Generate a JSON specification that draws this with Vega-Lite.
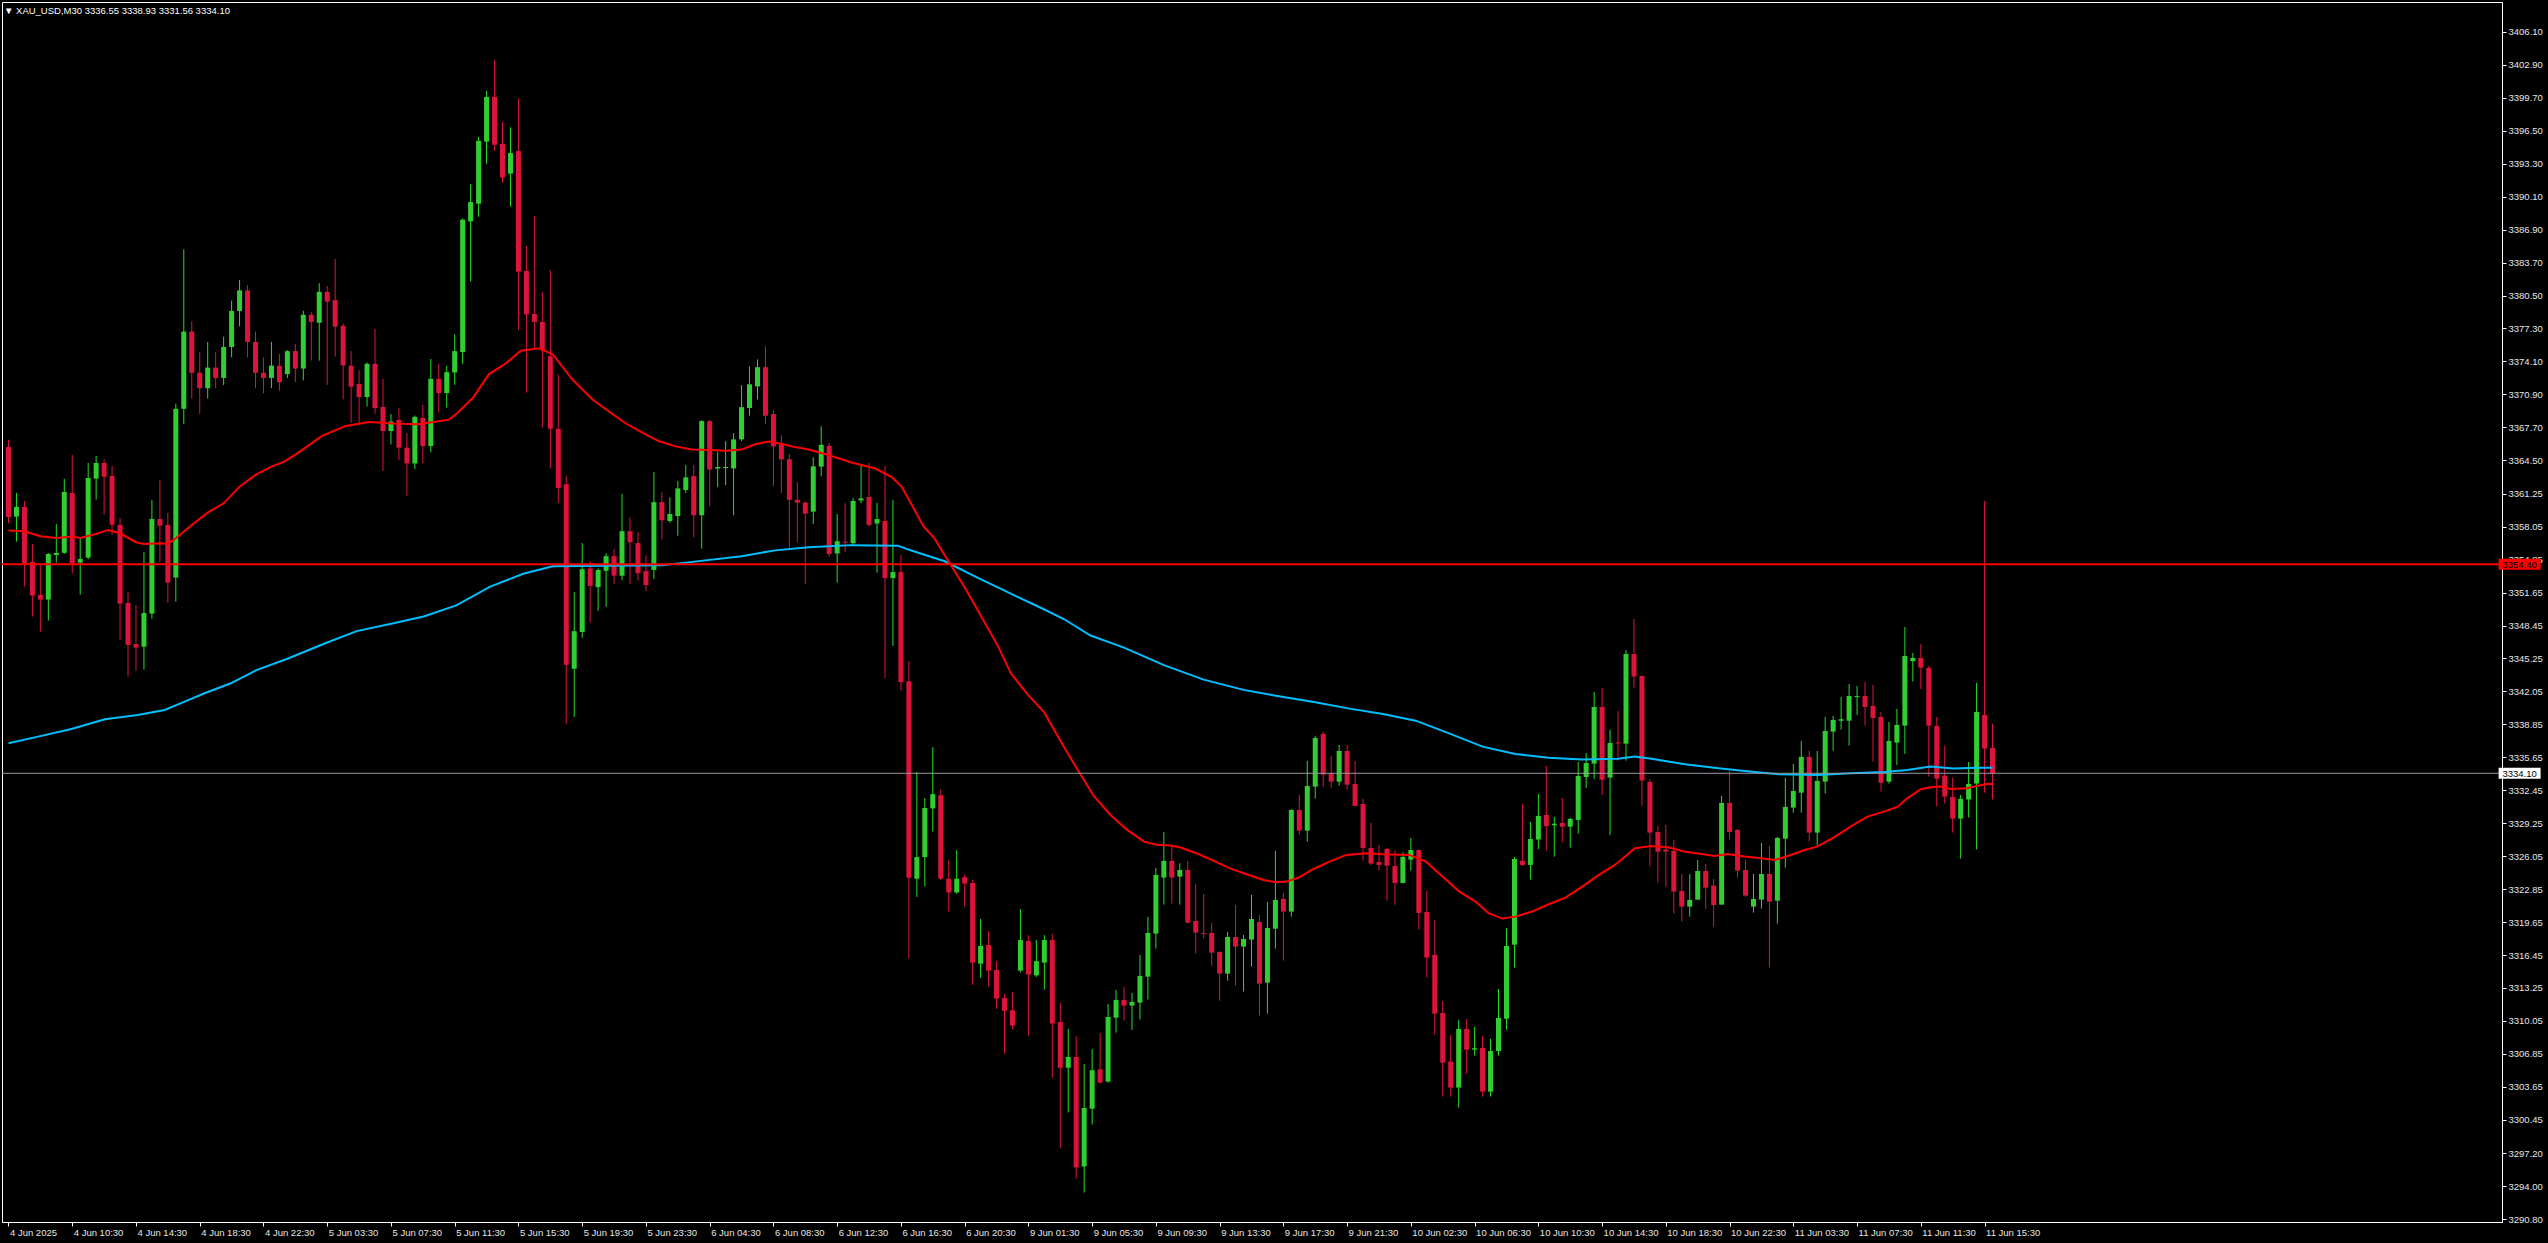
{
"$schema":"https://vega.github.io/schema/vega-lite/v6.json",
"width":2500,"height":1220,
"autosize":{"type":"none"},
"padding":{"left":2,"top":2,"right":46,"bottom":21},
"background":"#000000",
"config":{"view":{"stroke":"#FFFFFF","strokeWidth":1,"fill":"#000000"},"axis":{"labelOverlap":false}},
"title":{"text":"▼ XAU_USD,M30  3336.55 3338.93 3331.56 3334.10","anchor":"start","offset":-13,"dx":3,"color":"#FFFFFF","fontSize":9.5,"font":"Liberation Sans","fontWeight":"normal"},
"datasets":{
"candles":[
{"i":0,"o":3365.8,"h":3366.5,"l":3358.4,"c":3359.0},
{"i":1,"o":3359.03,"h":3361.33,"l":3356.6,"c":3359.97},
{"i":2,"o":3359.97,"h":3360.55,"l":3352.23,"c":3354.5},
{"i":3,"o":3354.63,"h":3356.37,"l":3349.32,"c":3351.36},
{"i":4,"o":3351.42,"h":3354.34,"l":3347.86,"c":3350.97},
{"i":5,"o":3350.97,"h":3355.5,"l":3348.93,"c":3355.4},
{"i":6,"o":3355.3,"h":3358.32,"l":3354.56,"c":3355.5},
{"i":7,"o":3355.53,"h":3362.69,"l":3355.4,"c":3361.42},
{"i":8,"o":3361.33,"h":3365.02,"l":3353.53,"c":3354.5},
{"i":9,"o":3354.56,"h":3356.86,"l":3351.45,"c":3354.92},
{"i":10,"o":3355.05,"h":3364.24,"l":3354.89,"c":3362.78},
{"i":11,"o":3362.72,"h":3364.92,"l":3360.68,"c":3364.24},
{"i":12,"o":3364.24,"h":3364.63,"l":3359.22,"c":3362.91},
{"i":13,"o":3362.98,"h":3363.95,"l":3357.25,"c":3358.25},
{"i":14,"o":3358.22,"h":3358.87,"l":3347.05,"c":3350.58},
{"i":15,"o":3350.64,"h":3351.68,"l":3343.49,"c":3346.57},
{"i":16,"o":3346.66,"h":3350.45,"l":3344.07,"c":3346.31},
{"i":17,"o":3346.4,"h":3355.57,"l":3344.17,"c":3349.67},
{"i":18,"o":3349.61,"h":3360.65,"l":3349.12,"c":3358.8},
{"i":19,"o":3358.8,"h":3362.56,"l":3354.63,"c":3358.15},
{"i":20,"o":3358.22,"h":3359.39,"l":3350.68,"c":3352.62},
{"i":21,"o":3353.11,"h":3370.0,"l":3350.77,"c":3369.5},
{"i":22,"o":3369.5,"h":3385.0,"l":3368.0,"c":3377.0},
{"i":23,"o":3377.0,"h":3378.0,"l":3370.5,"c":3373.0},
{"i":24,"o":3373.0,"h":3375.0,"l":3369.0,"c":3371.5},
{"i":25,"o":3371.5,"h":3376.0,"l":3370.5,"c":3373.5},
{"i":26,"o":3373.5,"h":3375.0,"l":3371.5,"c":3372.5},
{"i":27,"o":3372.5,"h":3376.5,"l":3371.8,"c":3375.5},
{"i":28,"o":3375.5,"h":3380.0,"l":3374.5,"c":3379.0},
{"i":29,"o":3379.0,"h":3382.0,"l":3377.5,"c":3381.0},
{"i":30,"o":3381.0,"h":3381.5,"l":3374.5,"c":3376.0},
{"i":31,"o":3376.0,"h":3377.0,"l":3371.5,"c":3373.0},
{"i":32,"o":3373.0,"h":3374.5,"l":3371.0,"c":3372.5},
{"i":33,"o":3372.5,"h":3376.0,"l":3371.5,"c":3373.7},
{"i":34,"o":3373.68,"h":3374.83,"l":3371.26,"c":3372.07},
{"i":35,"o":3372.87,"h":3375.2,"l":3372.49,"c":3375.1},
{"i":36,"o":3375.1,"h":3375.79,"l":3372.1,"c":3373.41},
{"i":37,"o":3373.41,"h":3379.02,"l":3372.26,"c":3378.63},
{"i":38,"o":3378.63,"h":3378.9,"l":3374.18,"c":3377.94},
{"i":39,"o":3377.86,"h":3381.7,"l":3374.18,"c":3380.86},
{"i":40,"o":3380.86,"h":3381.43,"l":3371.83,"c":3379.9},
{"i":41,"o":3380.05,"h":3384.05,"l":3374.56,"c":3377.48},
{"i":42,"o":3377.56,"h":3377.8,"l":3370.41,"c":3373.72},
{"i":43,"o":3373.68,"h":3375.1,"l":3368.15,"c":3371.64},
{"i":44,"o":3371.91,"h":3373.26,"l":3368.07,"c":3370.64},
{"i":45,"o":3370.64,"h":3374.0,"l":3369.72,"c":3373.87},
{"i":46,"o":3373.87,"h":3377.25,"l":3369.03,"c":3369.57},
{"i":47,"o":3369.68,"h":3372.41,"l":3363.46,"c":3367.34},
{"i":48,"o":3367.34,"h":3368.99,"l":3366.04,"c":3368.26},
{"i":49,"o":3368.42,"h":3369.57,"l":3364.54,"c":3365.73},
{"i":50,"o":3365.73,"h":3367.15,"l":3361.04,"c":3364.19},
{"i":51,"o":3364.19,"h":3368.84,"l":3363.65,"c":3368.72},
{"i":52,"o":3368.61,"h":3369.88,"l":3364.23,"c":3365.88},
{"i":53,"o":3365.88,"h":3374.33,"l":3365.27,"c":3372.41},
{"i":54,"o":3372.41,"h":3373.87,"l":3369.15,"c":3371.03},
{"i":55,"o":3371.03,"h":3373.68,"l":3369.61,"c":3373.06},
{"i":56,"o":3373.03,"h":3376.75,"l":3371.83,"c":3375.1},
{"i":57,"o":3375.02,"h":3388.0,"l":3373.87,"c":3387.85},
{"i":58,"o":3387.7,"h":3391.31,"l":3381.86,"c":3389.58},
{"i":59,"o":3389.42,"h":3395.91,"l":3388.16,"c":3395.53},
{"i":60,"o":3395.45,"h":3400.37,"l":3393.3,"c":3399.79},
{"i":61,"o":3399.79,"h":3403.36,"l":3394.57,"c":3395.14},
{"i":62,"o":3395.22,"h":3397.37,"l":3391.46,"c":3391.96},
{"i":63,"o":3392.34,"h":3396.84,"l":3389.15,"c":3394.34},
{"i":64,"o":3394.53,"h":3399.64,"l":3377.17,"c":3382.82},
{"i":65,"o":3382.89,"h":3385.31,"l":3371.07,"c":3378.67},
{"i":66,"o":3378.71,"h":3388.23,"l":3375.37,"c":3377.94},
{"i":67,"o":3377.94,"h":3380.86,"l":3367.69,"c":3375.18},
{"i":68,"o":3374.6,"h":3382.95,"l":3363.7,"c":3367.57},
{"i":69,"o":3367.56,"h":3372.83,"l":3360.35,"c":3361.81},
{"i":70,"o":3362.17,"h":3363.0,"l":3338.9,"c":3344.65},
{"i":71,"o":3344.25,"h":3351.7,"l":3339.58,"c":3347.9},
{"i":72,"o":3347.82,"h":3356.46,"l":3347.27,"c":3353.92},
{"i":73,"o":3354.0,"h":3354.68,"l":3348.73,"c":3352.3},
{"i":74,"o":3352.18,"h":3354.0,"l":3349.88,"c":3353.85},
{"i":75,"o":3353.77,"h":3355.47,"l":3350.28,"c":3355.19},
{"i":76,"o":3355.19,"h":3355.87,"l":3352.5,"c":3353.29},
{"i":77,"o":3353.29,"h":3361.22,"l":3352.85,"c":3357.61},
{"i":78,"o":3357.61,"h":3358.96,"l":3352.5,"c":3356.54},
{"i":79,"o":3356.46,"h":3357.53,"l":3352.81,"c":3353.53},
{"i":80,"o":3353.73,"h":3355.27,"l":3351.78,"c":3352.38},
{"i":81,"o":3353.85,"h":3363.36,"l":3352.97,"c":3360.43},
{"i":82,"o":3360.43,"h":3361.38,"l":3356.82,"c":3358.68},
{"i":83,"o":3358.6,"h":3360.9,"l":3358.44,"c":3359.28},
{"i":84,"o":3359.08,"h":3362.49,"l":3357.17,"c":3361.77},
{"i":85,"o":3361.61,"h":3364.03,"l":3361.34,"c":3362.84},
{"i":86,"o":3362.96,"h":3364.03,"l":3357.02,"c":3359.16},
{"i":87,"o":3359.16,"h":3368.4,"l":3355.91,"c":3368.31},
{"i":88,"o":3368.31,"h":3368.43,"l":3360.03,"c":3363.6},
{"i":89,"o":3363.7,"h":3365.3,"l":3361.89,"c":3363.85},
{"i":90,"o":3363.75,"h":3366.37,"l":3362.09,"c":3363.85},
{"i":91,"o":3363.71,"h":3367.12,"l":3359.16,"c":3366.53},
{"i":92,"o":3366.53,"h":3371.8,"l":3366.37,"c":3369.66},
{"i":93,"o":3369.58,"h":3373.62,"l":3368.83,"c":3371.88},
{"i":94,"o":3371.68,"h":3374.3,"l":3370.41,"c":3373.54},
{"i":95,"o":3373.54,"h":3375.57,"l":3368.0,"c":3368.83},
{"i":96,"o":3368.99,"h":3369.38,"l":3362.01,"c":3365.85},
{"i":97,"o":3366.05,"h":3366.92,"l":3361.34,"c":3364.59},
{"i":98,"o":3364.59,"h":3365.1,"l":3355.99,"c":3360.66},
{"i":99,"o":3360.66,"h":3362.37,"l":3356.54,"c":3360.39},
{"i":100,"o":3360.39,"h":3360.51,"l":3352.5,"c":3359.32},
{"i":101,"o":3359.51,"h":3364.79,"l":3358.33,"c":3363.91},
{"i":102,"o":3363.89,"h":3367.8,"l":3362.94,"c":3366.0},
{"i":103,"o":3365.9,"h":3366.2,"l":3355.12,"c":3355.4},
{"i":104,"o":3355.45,"h":3359.27,"l":3352.63,"c":3356.64},
{"i":105,"o":3356.6,"h":3360.32,"l":3355.59,"c":3356.5},
{"i":106,"o":3356.45,"h":3360.84,"l":3356.3,"c":3360.55},
{"i":107,"o":3360.6,"h":3363.99,"l":3360.32,"c":3360.8},
{"i":108,"o":3360.94,"h":3364.28,"l":3358.07,"c":3358.22},
{"i":109,"o":3358.36,"h":3360.36,"l":3353.59,"c":3358.79},
{"i":110,"o":3358.6,"h":3363.94,"l":3343.33,"c":3353.06},
{"i":111,"o":3353.06,"h":3360.65,"l":3346.48,"c":3353.64},
{"i":112,"o":3353.64,"h":3355.31,"l":3342.14,"c":3342.95},
{"i":113,"o":3343.04,"h":3345.0,"l":3316.14,"c":3323.96},
{"i":114,"o":3323.86,"h":3334.22,"l":3322.1,"c":3325.96},
{"i":115,"o":3325.96,"h":3331.69,"l":3323.1,"c":3330.73},
{"i":116,"o":3330.69,"h":3336.65,"l":3328.45,"c":3332.07},
{"i":117,"o":3331.98,"h":3332.55,"l":3323.72,"c":3323.86},
{"i":118,"o":3323.86,"h":3325.68,"l":3320.67,"c":3322.53},
{"i":119,"o":3322.53,"h":3326.63,"l":3322.4,"c":3323.86},
{"i":120,"o":3324.01,"h":3324.25,"l":3321.15,"c":3323.39},
{"i":121,"o":3323.44,"h":3323.77,"l":3313.56,"c":3315.71},
{"i":122,"o":3315.61,"h":3319.95,"l":3314.23,"c":3317.33},
{"i":123,"o":3317.42,"h":3318.76,"l":3313.37,"c":3314.94},
{"i":124,"o":3314.99,"h":3315.85,"l":3311.22,"c":3312.22},
{"i":125,"o":3312.27,"h":3312.65,"l":3306.88,"c":3311.03},
{"i":126,"o":3311.08,"h":3312.84,"l":3309.22,"c":3309.6},
{"i":127,"o":3314.94,"h":3320.91,"l":3314.75,"c":3317.9},
{"i":128,"o":3317.81,"h":3318.38,"l":3308.6,"c":3314.56},
{"i":129,"o":3314.47,"h":3317.9,"l":3314.32,"c":3315.85},
{"i":130,"o":3315.71,"h":3318.38,"l":3313.08,"c":3317.9},
{"i":131,"o":3317.9,"h":3318.52,"l":3304.54,"c":3309.79},
{"i":132,"o":3309.93,"h":3311.79,"l":3297.72,"c":3305.5},
{"i":133,"o":3305.5,"h":3309.27,"l":3301.16,"c":3306.55},
{"i":134,"o":3306.55,"h":3308.55,"l":3294.72,"c":3295.82},
{"i":135,"o":3295.91,"h":3305.85,"l":3293.38,"c":3301.59},
{"i":136,"o":3301.53,"h":3307.3,"l":3299.98,"c":3305.26},
{"i":137,"o":3305.35,"h":3308.88,"l":3304.0,"c":3304.06},
{"i":138,"o":3304.16,"h":3311.7,"l":3304.06,"c":3310.43},
{"i":139,"o":3310.37,"h":3313.06,"l":3308.91,"c":3312.09},
{"i":140,"o":3312.09,"h":3313.35,"l":3310.08,"c":3311.54},
{"i":141,"o":3311.54,"h":3312.77,"l":3309.17,"c":3311.89},
{"i":142,"o":3311.83,"h":3316.46,"l":3310.18,"c":3314.42},
{"i":143,"o":3314.35,"h":3320.14,"l":3312.12,"c":3318.59},
{"i":144,"o":3318.53,"h":3324.91,"l":3317.07,"c":3324.23},
{"i":145,"o":3323.97,"h":3328.4,"l":3321.35,"c":3325.59},
{"i":146,"o":3325.59,"h":3327.08,"l":3321.44,"c":3323.97},
{"i":147,"o":3324.07,"h":3325.36,"l":3321.35,"c":3324.71},
{"i":148,"o":3324.71,"h":3325.59,"l":3319.5,"c":3319.6},
{"i":149,"o":3319.76,"h":3323.35,"l":3316.59,"c":3318.63},
{"i":150,"o":3318.6,"h":3322.38,"l":3318.04,"c":3318.5},
{"i":151,"o":3318.59,"h":3319.57,"l":3315.42,"c":3316.68},
{"i":152,"o":3316.75,"h":3316.8,"l":3312.02,"c":3314.64},
{"i":153,"o":3314.64,"h":3318.69,"l":3313.96,"c":3318.2},
{"i":154,"o":3318.2,"h":3321.31,"l":3313.48,"c":3317.27},
{"i":155,"o":3317.27,"h":3318.4,"l":3312.9,"c":3318.01},
{"i":156,"o":3317.95,"h":3322.28,"l":3315.32,"c":3319.95},
{"i":157,"o":3319.66,"h":3320.34,"l":3310.57,"c":3313.67},
{"i":158,"o":3313.77,"h":3321.6,"l":3310.76,"c":3319.08},
{"i":159,"o":3319.01,"h":3326.56,"l":3317.07,"c":3321.8},
{"i":160,"o":3321.9,"h":3322.48,"l":3315.91,"c":3320.67},
{"i":161,"o":3320.67,"h":3330.6,"l":3320.18,"c":3330.54},
{"i":162,"o":3330.54,"h":3331.99,"l":3328.14,"c":3328.53},
{"i":163,"o":3328.53,"h":3335.3,"l":3327.46,"c":3332.87},
{"i":164,"o":3332.81,"h":3337.73,"l":3331.64,"c":3337.53},
{"i":165,"o":3337.92,"h":3338.11,"l":3332.81,"c":3333.97},
{"i":166,"o":3334.07,"h":3335.78,"l":3332.71,"c":3333.29},
{"i":167,"o":3333.29,"h":3336.85,"l":3332.9,"c":3336.27},
{"i":168,"o":3336.27,"h":3336.85,"l":3332.51,"c":3333.0},
{"i":169,"o":3333.06,"h":3335.3,"l":3330.9,"c":3330.93},
{"i":170,"o":3331.12,"h":3331.61,"l":3325.62,"c":3326.85},
{"i":171,"o":3326.85,"h":3329.28,"l":3325.2,"c":3325.33},
{"i":172,"o":3325.49,"h":3327.14,"l":3324.65,"c":3325.2},
{"i":173,"o":3326.75,"h":3326.85,"l":3321.73,"c":3325.13},
{"i":174,"o":3325.1,"h":3326.62,"l":3321.34,"c":3323.45},
{"i":175,"o":3323.45,"h":3326.43,"l":3323.4,"c":3325.97},
{"i":176,"o":3325.71,"h":3327.82,"l":3324.65,"c":3326.65},
{"i":177,"o":3326.65,"h":3326.7,"l":3318.92,"c":3320.54},
{"i":178,"o":3320.63,"h":3322.67,"l":3314.26,"c":3316.2},
{"i":179,"o":3316.46,"h":3319.85,"l":3308.72,"c":3310.76},
{"i":180,"o":3310.82,"h":3311.99,"l":3302.7,"c":3306.0},
{"i":181,"o":3306.1,"h":3308.69,"l":3302.7,"c":3303.57},
{"i":182,"o":3303.57,"h":3310.14,"l":3301.63,"c":3309.27},
{"i":183,"o":3309.27,"h":3310.24,"l":3304.93,"c":3307.26},
{"i":184,"o":3307.26,"h":3309.46,"l":3306.68,"c":3307.4},
{"i":185,"o":3307.42,"h":3308.59,"l":3302.7,"c":3303.18},
{"i":186,"o":3303.18,"h":3308.3,"l":3302.7,"c":3307.13},
{"i":187,"o":3307.13,"h":3313.15,"l":3306.68,"c":3310.34},
{"i":188,"o":3310.27,"h":3319.05,"l":3309.2,"c":3317.33},
{"i":189,"o":3317.46,"h":3325.97,"l":3315.23,"c":3325.78},
{"i":190,"o":3325.59,"h":3331.12,"l":3325.1,"c":3325.2},
{"i":191,"o":3325.2,"h":3329.37,"l":3323.77,"c":3327.72},
{"i":192,"o":3327.66,"h":3332.09,"l":3326.75,"c":3329.96},
{"i":193,"o":3330.05,"h":3334.81,"l":3326.59,"c":3328.98},
{"i":194,"o":3329.05,"h":3329.86,"l":3326.01,"c":3329.2},
{"i":195,"o":3329.28,"h":3331.7,"l":3327.37,"c":3328.92},
{"i":196,"o":3328.92,"h":3329.76,"l":3326.88,"c":3329.67},
{"i":197,"o":3329.57,"h":3335.2,"l":3328.24,"c":3333.84},
{"i":198,"o":3333.74,"h":3336.07,"l":3332.68,"c":3335.1},
{"i":199,"o":3335.04,"h":3342.0,"l":3333.55,"c":3340.54},
{"i":200,"o":3340.54,"h":3342.39,"l":3332.0,"c":3333.48},
{"i":201,"o":3333.68,"h":3338.31,"l":3328.11,"c":3337.05},
{"i":202,"o":3337.1,"h":3340.15,"l":3335.33,"c":3337.0},
{"i":203,"o":3336.98,"h":3346.08,"l":3335.33,"c":3345.69},
{"i":204,"o":3345.69,"h":3349.09,"l":3342.42,"c":3343.49},
{"i":205,"o":3343.55,"h":3343.6,"l":3330.96,"c":3333.39},
{"i":206,"o":3333.26,"h":3333.55,"l":3325.04,"c":3328.34},
{"i":207,"o":3328.4,"h":3328.98,"l":3323.48,"c":3326.49},
{"i":208,"o":3326.7,"h":3329.08,"l":3323.09,"c":3326.5},
{"i":209,"o":3326.56,"h":3327.63,"l":3320.47,"c":3322.61},
{"i":210,"o":3322.67,"h":3324.32,"l":3319.69,"c":3321.15},
{"i":211,"o":3321.15,"h":3324.32,"l":3320.18,"c":3321.8},
{"i":212,"o":3321.83,"h":3325.68,"l":3321.8,"c":3324.61},
{"i":213,"o":3324.61,"h":3325.3,"l":3320.96,"c":3322.99},
{"i":214,"o":3323.19,"h":3323.84,"l":3319.21,"c":3321.31},
{"i":215,"o":3321.35,"h":3331.9,"l":3321.3,"c":3331.22},
{"i":216,"o":3331.22,"h":3334.33,"l":3327.66,"c":3328.4},
{"i":217,"o":3328.6,"h":3328.69,"l":3323.97,"c":3324.65},
{"i":218,"o":3324.71,"h":3325.68,"l":3322.12,"c":3322.22},
{"i":219,"o":3321.15,"h":3324.32,"l":3320.57,"c":3321.89},
{"i":220,"o":3321.83,"h":3327.33,"l":3320.96,"c":3324.32},
{"i":221,"o":3324.32,"h":3327.04,"l":3315.23,"c":3321.64},
{"i":222,"o":3321.73,"h":3327.92,"l":3319.5,"c":3327.82},
{"i":223,"o":3327.75,"h":3333.65,"l":3324.94,"c":3330.83},
{"i":224,"o":3330.77,"h":3335.01,"l":3330.28,"c":3332.38},
{"i":225,"o":3332.22,"h":3337.24,"l":3330.28,"c":3335.69},
{"i":226,"o":3335.69,"h":3336.27,"l":3327.46,"c":3328.34},
{"i":227,"o":3328.34,"h":3336.27,"l":3327.08,"c":3333.36},
{"i":228,"o":3333.29,"h":3339.57,"l":3332.13,"c":3338.21},
{"i":229,"o":3338.15,"h":3339.67,"l":3336.3,"c":3339.28},
{"i":230,"o":3339.2,"h":3341.51,"l":3338.34,"c":3339.35},
{"i":231,"o":3339.21,"h":3342.78,"l":3336.79,"c":3341.61},
{"i":232,"o":3341.5,"h":3342.58,"l":3339.77,"c":3341.6},
{"i":233,"o":3341.61,"h":3342.97,"l":3338.73,"c":3340.54},
{"i":234,"o":3340.64,"h":3342.68,"l":3335.23,"c":3339.47},
{"i":235,"o":3339.57,"h":3340.06,"l":3332.32,"c":3333.19},
{"i":236,"o":3333.29,"h":3339.09,"l":3333.1,"c":3337.24},
{"i":237,"o":3337.08,"h":3340.35,"l":3334.91,"c":3338.8},
{"i":238,"o":3338.73,"h":3348.31,"l":3335.98,"c":3345.5},
{"i":239,"o":3345.0,"h":3345.79,"l":3343.01,"c":3345.3},
{"i":240,"o":3345.3,"h":3346.66,"l":3342.29,"c":3344.36},
{"i":241,"o":3344.33,"h":3344.53,"l":3333.78,"c":3338.73},
{"i":242,"o":3338.7,"h":3339.57,"l":3330.87,"c":3333.58},
{"i":243,"o":3333.88,"h":3336.76,"l":3331.16,"c":3331.84},
{"i":244,"o":3331.8,"h":3333.68,"l":3328.34,"c":3329.7},
{"i":245,"o":3329.7,"h":3332.0,"l":3325.81,"c":3331.61},
{"i":246,"o":3331.55,"h":3335.2,"l":3329.8,"c":3333.07},
{"i":247,"o":3333.1,"h":3342.88,"l":3326.69,"c":3340.06},
{"i":248,"o":3339.77,"h":3360.55,"l":3332.22,"c":3336.5},
{"i":249,"o":3336.55,"h":3338.93,"l":3331.56,"c":3334.1}
],
"ma_red":[
{"x":0,"v":3357.67},{"x":2,"v":3357.6},{"x":4,"v":3357.12},{"x":6,"v":3356.96},{"x":8,"v":3357.09},{"x":9,"v":3356.96},{"x":11,"v":3357.35},{"x":12.5,"v":3357.73},{"x":14,"v":3357.41},{"x":16,"v":3356.54},{"x":17,"v":3356.37},{"x":19,"v":3356.44},{"x":20,"v":3356.37},{"x":21,"v":3356.93},{"x":23,"v":3358.22},{"x":25,"v":3359.42},{"x":27,"v":3360.32},{"x":29,"v":3361.94},{"x":31,"v":3363.08},{"x":33,"v":3363.89},{"x":34.6,"v":3364.37},{"x":36.3,"v":3365.19},{"x":39.3,"v":3366.84},{"x":42.3,"v":3367.84},{"x":45.3,"v":3368.22},{"x":48.3,"v":3368.07},{"x":51.3,"v":3368.0},{"x":53.3,"v":3368.22},{"x":55.3,"v":3368.45},{"x":56.3,"v":3369.07},{"x":58.3,"v":3370.57},{"x":60.3,"v":3372.87},{"x":62.3,"v":3373.83},{"x":64.3,"v":3375.14},{"x":66.6,"v":3375.37},{"x":68.3,"v":3374.8},{"x":70.8,"v":3372.32},{"x":73.3,"v":3370.41},{"x":75.4,"v":3369.22},{"x":77.5,"v":3368.07},{"x":79.6,"v":3367.16},{"x":81.6,"v":3366.37},{"x":83.7,"v":3365.85},{"x":85.8,"v":3365.54},{"x":87.9,"v":3365.5},{"x":90,"v":3365.42},{"x":92,"v":3365.54},{"x":93.7,"v":3366.05},{"x":95.4,"v":3366.33},{"x":97.1,"v":3366.09},{"x":98.7,"v":3365.78},{"x":100.4,"v":3365.55},{"x":102.8,"v":3365.04},{"x":105.8,"v":3364.28},{"x":108.8,"v":3363.7},{"x":110.8,"v":3362.89},{"x":112.1,"v":3361.94},{"x":113.3,"v":3360.27},{"x":114.8,"v":3358.12},{"x":116.2,"v":3356.93},{"x":117.9,"v":3354.78},{"x":120,"v":3352.16},{"x":122.1,"v":3349.3},{"x":124.2,"v":3346.43},{"x":125.8,"v":3343.81},{"x":127.9,"v":3341.76},{"x":130,"v":3339.99},{"x":132.1,"v":3337.13},{"x":134.2,"v":3334.41},{"x":136.2,"v":3331.9},{"x":138.3,"v":3330.05},{"x":140.4,"v":3328.6},{"x":142.5,"v":3327.46},{"x":144.1,"v":3327.17},{"x":145.8,"v":3327.08},{"x":147,"v":3326.91},{"x":149.1,"v":3326.33},{"x":151.2,"v":3325.62},{"x":153.3,"v":3324.87},{"x":155.4,"v":3324.29},{"x":157.5,"v":3323.74},{"x":159.1,"v":3323.51},{"x":160.4,"v":3323.58},{"x":162,"v":3324.0},{"x":163.7,"v":3324.78},{"x":165.8,"v":3325.52},{"x":167.9,"v":3326.17},{"x":170.4,"v":3326.33},{"x":172.5,"v":3326.23},{"x":175.8,"v":3326.17},{"x":177.9,"v":3325.52},{"x":180,"v":3324.06},{"x":182.1,"v":3322.61},{"x":184.1,"v":3321.64},{"x":185.8,"v":3320.5},{"x":187.5,"v":3319.99},{"x":189.1,"v":3320.18},{"x":191.2,"v":3320.67},{"x":193.3,"v":3321.38},{"x":195.4,"v":3322.02},{"x":197.5,"v":3323.09},{"x":199.6,"v":3324.23},{"x":201.6,"v":3325.2},{"x":202.9,"v":3326.01},{"x":204.1,"v":3326.82},{"x":206.2,"v":3327.04},{"x":208.3,"v":3326.91},{"x":210.4,"v":3326.49},{"x":212.5,"v":3326.27},{"x":214.1,"v":3326.07},{"x":215.8,"v":3326.27},{"x":217.9,"v":3326.01},{"x":220,"v":3325.84},{"x":221.7,"v":3325.68},{"x":223.7,"v":3326.17},{"x":225.4,"v":3326.65},{"x":227,"v":3326.98},{"x":229.1,"v":3327.88},{"x":231.2,"v":3328.92},{"x":233.3,"v":3329.89},{"x":235.4,"v":3330.38},{"x":237.1,"v":3330.86},{"x":238.3,"v":3331.67},{"x":240,"v":3332.55},{"x":241.2,"v":3332.74},{"x":242.5,"v":3332.81},{"x":243.7,"v":3332.58},{"x":245.8,"v":3332.65},{"x":247,"v":3332.87},{"x":248.3,"v":3333.07},{"x":249,"v":3333.07}
],
"ma_blue":[
{"x":0,"v":3337.02},{"x":3.7,"v":3337.66},{"x":7.9,"v":3338.41},{"x":12.1,"v":3339.35},{"x":16.2,"v":3339.77},{"x":19.6,"v":3340.25},{"x":22.1,"v":3341.06},{"x":24.6,"v":3341.87},{"x":27.9,"v":3342.84},{"x":31.2,"v":3344.14},{"x":35,"v":3345.22},{"x":39.6,"v":3346.68},{"x":43.7,"v":3347.91},{"x":47.9,"v":3348.6},{"x":52.1,"v":3349.33},{"x":56.2,"v":3350.41},{"x":60.4,"v":3352.21},{"x":64.6,"v":3353.48},{"x":68.3,"v":3354.2},{"x":75,"v":3354.25},{"x":82,"v":3354.3},{"x":85,"v":3354.56},{"x":92,"v":3355.19},{"x":96.2,"v":3355.75},{"x":100.4,"v":3356.05},{"x":105.8,"v":3356.26},{"x":111.6,"v":3356.21},{"x":113.3,"v":3355.74},{"x":117.5,"v":3354.69},{"x":121.6,"v":3353.11},{"x":125.8,"v":3351.54},{"x":130,"v":3350.01},{"x":132.5,"v":3349.06},{"x":135.8,"v":3347.48},{"x":140,"v":3346.3},{"x":145,"v":3344.6},{"x":150,"v":3343.2},{"x":155,"v":3342.2},{"x":160,"v":3341.5},{"x":164,"v":3341.0},{"x":168.3,"v":3340.38},{"x":172.5,"v":3339.86},{"x":176.6,"v":3339.21},{"x":180.8,"v":3337.98},{"x":185,"v":3336.69},{"x":189.1,"v":3335.98},{"x":193.3,"v":3335.62},{"x":197.5,"v":3335.43},{"x":202,"v":3335.52},{"x":204.1,"v":3335.72},{"x":206.2,"v":3335.52},{"x":210.4,"v":3334.97},{"x":214.6,"v":3334.59},{"x":218.8,"v":3334.26},{"x":222.2,"v":3334.0},{"x":227,"v":3333.94},{"x":231.2,"v":3334.1},{"x":235.4,"v":3334.23},{"x":238.3,"v":3334.43},{"x":241.2,"v":3334.75},{"x":244.1,"v":3334.56},{"x":247,"v":3334.65},{"x":249,"v":3334.65}
],
"levels":[
{"p":3354.4,"label":"3354.40","kind":"hline"},
{"p":3334.1,"label":"3334.10","kind":"bid"}
]
},
"layer":[
{"data":{"name":"candles"},
 "mark":{"type":"rule","strokeWidth":1},
 "encoding":{
  "x":{"field":"i","type":"quantitative","title":null,
   "scale":{"domain":[-0.1875,312.3125],"nice":false,"zero":false},
   "axis":{"orient":"bottom","tickCount":60,"values":[0,8,16,24,32,40,48,56,64,72,80,88,96,104,112,120,128,136,144,152,160,168,176,184,192,200,208,216,224,232,240,248],
    "labelExpr":"['4 Jun 2025','4 Jun 10:30','4 Jun 14:30','4 Jun 18:30','4 Jun 22:30','5 Jun 03:30','5 Jun 07:30','5 Jun 11:30','5 Jun 15:30','5 Jun 19:30','5 Jun 23:30','6 Jun 04:30','6 Jun 08:30','6 Jun 12:30','6 Jun 16:30','6 Jun 20:30','9 Jun 01:30','9 Jun 05:30','9 Jun 09:30','9 Jun 13:30','9 Jun 17:30','9 Jun 21:30','10 Jun 02:30','10 Jun 06:30','10 Jun 10:30','10 Jun 14:30','10 Jun 18:30','10 Jun 22:30','11 Jun 03:30','11 Jun 07:30','11 Jun 11:30','11 Jun 15:30'][round(datum.value/8)]",
    "labelAlign":"left","labelOffset":1,"labelPadding":1,"labelFlush":false,"labelOverlap":false,"labelBound":false,
    "labelColor":"#E6E6E6","labelFont":"Liberation Sans","labelFontSize":9.5,
    "tickColor":"#FFFFFF","tickSize":4,"tickWidth":1,"domainColor":"#FFFFFF","domainWidth":1,"grid":false}},
  "y":{"field":"l","type":"quantitative","title":null,
   "scale":{"domain":[3290.52,3409.01],"nice":false,"zero":false},
   "axis":{"orient":"right","tickCount":60,"values":[3406.10,3402.90,3399.70,3396.50,3393.30,3390.10,3386.90,3383.70,3380.50,3377.30,3374.10,3370.90,3367.70,3364.50,3361.25,3358.05,3354.85,3351.65,3348.45,3345.25,3342.05,3338.85,3335.65,3332.45,3329.25,3326.05,3322.85,3319.65,3316.45,3313.25,3310.05,3306.85,3303.65,3300.45,3297.20,3294.00,3290.80],
    "format":".2f","labelAlign":"left","labelPadding":2,"labelFlush":false,"labelOverlap":false,"labelBound":false,
    "labelColor":"#E6E6E6","labelFont":"Liberation Sans","labelFontSize":9.5,
    "tickColor":"#FFFFFF","tickSize":4,"tickWidth":1,"domainColor":"#FFFFFF","domainWidth":1,"grid":false}},
  "y2":{"field":"h"},
  "color":{"condition":{"test":"datum.c >= datum.o","value":"#22E022"},"value":"#DC143C"}
 }},
{"data":{"name":"candles"},
 "mark":{"type":"bar","width":5},
 "encoding":{
  "x":{"field":"i","type":"quantitative","title":null},
  "y":{"field":"o","type":"quantitative","title":null},
  "y2":{"field":"c"},
  "color":{"condition":{"test":"datum.c >= datum.o","value":"#32CD32"},"value":"#DC143C"}
 }},
{"data":{"name":"ma_blue"},
 "mark":{"type":"line","color":"#00BFFF","strokeWidth":2},
 "encoding":{
  "x":{"field":"x","type":"quantitative","title":null},
  "y":{"field":"v","type":"quantitative","title":null}
 }},
{"data":{"name":"ma_red"},
 "mark":{"type":"line","color":"#FF0000","strokeWidth":2},
 "encoding":{
  "x":{"field":"x","type":"quantitative","title":null},
  "y":{"field":"v","type":"quantitative","title":null}
 }},
{"data":{"name":"levels"},
 "transform":[{"filter":"datum.kind == 'bid'"}],
 "mark":{"type":"rule","color":"#9A9AA2","strokeWidth":1},
 "encoding":{"y":{"field":"p","type":"quantitative","title":null}}},
{"data":{"name":"levels"},
 "transform":[{"filter":"datum.kind == 'hline'"}],
 "mark":{"type":"rule","color":"#FF0000","strokeWidth":2},
 "encoding":{"y":{"field":"p","type":"quantitative","title":null}}},
{"data":{"name":"levels"},
 "mark":{"type":"tick","orient":"horizontal","size":42,"thickness":11,"opacity":1},
 "encoding":{
  "x":{"datum":315.15,"type":"quantitative"},
  "y":{"field":"p","type":"quantitative","title":null},
  "color":{"condition":{"test":"datum.kind == 'hline'","value":"#FF0000"},"value":"#FFFFFF"}
 }},
{"data":{"name":"levels"},
 "mark":{"type":"text","align":"center","baseline":"middle","font":"Liberation Sans","fontSize":9.5,"color":"#000000","dy":0.5},
 "encoding":{
  "x":{"datum":315.15,"type":"quantitative"},
  "y":{"field":"p","type":"quantitative","title":null},
  "text":{"field":"label"}
 }}
]
}
